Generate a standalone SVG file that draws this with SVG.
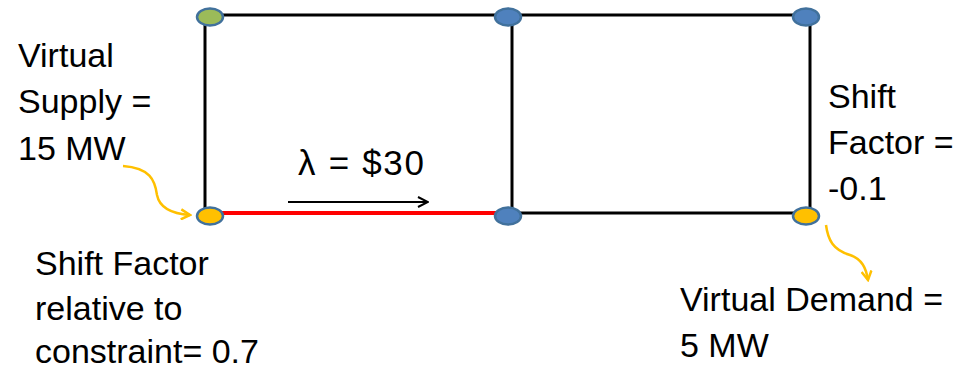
<svg xmlns="http://www.w3.org/2000/svg" width="957" height="370" viewBox="0 0 957 370">
<style>
.t{font-family:"Liberation Sans","Noto Sans",sans-serif;font-size:34px;fill:#000}
.line{stroke:#000;stroke-width:3;fill:none}
.node{stroke:#41719c;stroke-width:2.5}
.blue{fill:#4f81bd}
.green{fill:#9bbb59}
.yellow{fill:#ffc000}
.curve{stroke:#ffc000;stroke-width:2.5;fill:none}
</style>
<defs>
<marker id="ah" viewBox="0 0 12 12" refX="11" refY="6" markerWidth="12" markerHeight="12" markerUnits="userSpaceOnUse" orient="auto">
<path d="M1,1 L11,6 L1,11" fill="none" stroke="#000" stroke-width="2"/>
</marker>
<marker id="ahy" viewBox="0 0 12 12" refX="10" refY="6" markerWidth="12" markerHeight="12" markerUnits="userSpaceOnUse" orient="auto">
<path d="M1,1 L10,6 L1,11" fill="none" stroke="#ffc000" stroke-width="2.5"/>
</marker>
</defs>
<g id="connectors">
<path class="line" d="M209,15 H806"/>
<path class="line" d="M205,15 V213"/>
<path class="line" d="M512,15 V213"/>
<path class="line" d="M810,15 V213"/>
<path d="M209,213 H508" stroke="#ff0000" stroke-width="4" fill="none"/>
<path class="line" d="M508,213 H806"/>
<path d="M288,202 H428" stroke="#000" stroke-width="2.2" fill="none" marker-end="url(#ah)"/>
<path class="curve" d="M123,166 C150,168 155,180 157,195 C160,210 175,214 190,215" marker-end="url(#ahy)"/>
<path class="curve" d="M826,225 C828,240 833,250 850,255 C862,259 866,268 868,280" marker-end="url(#ahy)"/>
</g>
<g id="n1"><ellipse class="node green" cx="210" cy="17" rx="13" ry="8.5"/></g>
<g id="n2"><ellipse class="node blue" cx="508" cy="17" rx="13" ry="8.5"/></g>
<g id="n3"><ellipse class="node blue" cx="806" cy="17" rx="13" ry="8.5"/></g>
<g id="n4"><ellipse class="node yellow" cx="210" cy="216" rx="13" ry="8.5"/></g>
<g id="n5"><ellipse class="node blue" cx="508" cy="216" rx="13" ry="8.5"/></g>
<g id="n6"><ellipse class="node yellow" cx="806" cy="216" rx="13" ry="8.5"/></g>
<g id="labels">
<text class="t" x="18" y="67">Virtual</text>
<text class="t" x="18" y="113">Supply =</text>
<text class="t" x="18" y="160">15 MW</text>
<text class="t" x="828" y="108">Shift</text>
<text class="t" x="828" y="154">Factor =</text>
<text class="t" x="828" y="200">-0.1</text>
<text class="t" x="35" y="275">Shift Factor</text>
<text class="t" x="35" y="320">relative to</text>
<text class="t" x="35" y="363">constraint= 0.7</text>
<text class="t" x="680" y="311">Virtual Demand =</text>
<text class="t" x="680" y="357">5 MW</text>
<text x="298" y="175" font-family="Liberation Sans, Arial, sans-serif" font-size="35" textLength="126" lengthAdjust="spacing">λ = $30</text>
</g>
</svg>
